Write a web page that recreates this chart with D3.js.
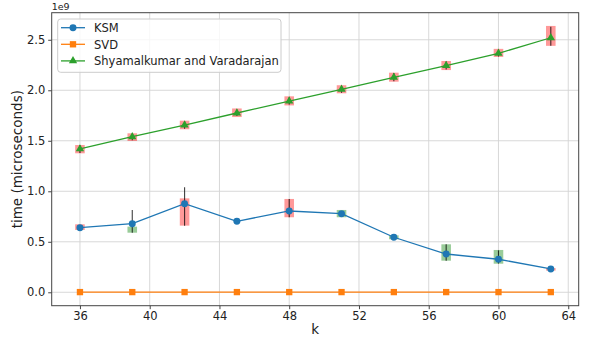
<!doctype html>
<html lang="en">
<head>
<meta charset="utf-8">
<title>time vs k</title>
<style>
  body { margin: 0; background: #fff; }
  text { font-family: "DejaVu Sans", sans-serif; fill: #222; }
  .grid line { stroke: #d4d4d4; stroke-width: 0.9; }
  .axis path, .axis line { stroke: #444; }
</style>
</head>
<body>
<script src="https://d3js.org/d3.v7.min.js"></script>
<script>
// k values on the x axis
var ks = [36, 39, 42, 45, 48, 51, 54, 57, 60, 63];

// KSM: mean time, error bar ends, shaded box ends, box colour
var ksm     = [0.640e9, 0.679e9, 0.877e9, 0.703e9, 0.805e9, 0.778e9, 0.545e9, 0.379e9, 0.327e9, 0.231e9];
var ksmLow  = [0.620e9, 0.590e9, 0.660e9, 0.700e9, 0.743e9, 0.755e9, 0.535e9, 0.313e9, 0.285e9, 0.226e9];
var ksmHigh = [0.665e9, 0.815e9, 1.040e9, 0.706e9, 0.924e9, 0.800e9, 0.555e9, 0.475e9, 0.415e9, 0.236e9];
var ksmBoxLo = [0.617e9, 0.590e9, 0.660e9, null, 0.743e9, 0.743e9, 0.525e9, 0.313e9, 0.283e9, 0.215e9];
var ksmBoxHi = [0.673e9, 0.650e9, 0.930e9, null, 0.924e9, 0.815e9, 0.564e9, 0.475e9, 0.419e9, 0.240e9];
var ksmBoxCol = ["red", "green", "red", "red", "red", "green", "green", "green", "green", "red"];

// SVD: essentially zero
var svd = [0.002e9, 0.002e9, 0.002e9, 0.002e9, 0.002e9, 0.002e9, 0.002e9, 0.002e9, 0.002e9, 0.002e9];

// Shyamalkumar and Varadarajan
var sv     = [1.419e9, 1.540e9, 1.656e9, 1.775e9, 1.893e9, 2.010e9, 2.128e9, 2.244e9, 2.366e9, 2.520e9];
var svLow  = [1.380e9, 1.505e9, 1.620e9, 1.745e9, 1.860e9, 1.975e9, 2.090e9, 2.205e9, 2.335e9, 2.440e9];
var svHigh = [1.455e9, 1.570e9, 1.695e9, 1.810e9, 1.930e9, 2.045e9, 2.170e9, 2.285e9, 2.405e9, 2.630e9];
var svBoxLo = [1.376e9, 1.498e9, 1.614e9, 1.735e9, 1.850e9, 1.970e9, 2.085e9, 2.200e9, 2.330e9, 2.440e9];
var svBoxHi = [1.458e9, 1.574e9, 1.699e9, 1.820e9, 1.940e9, 2.050e9, 2.174e9, 2.290e9, 2.410e9, 2.637e9];
var svBoxCol = ["red", "red", "red", "red", "red", "red", "red", "red", "red", "red"];

var xTicks = [36, 40, 44, 48, 52, 56, 60, 64];
var yTicks = [0, 0.5e9, 1.0e9, 1.5e9, 2.0e9, 2.5e9];

var W = 590, H = 339;
var pl = 51.7, pr = 578.7, pt = 12.7, pb = 305.7;

var svg = d3.select("body").append("svg")
    .attr("width", W).attr("height", H);

var x = d3.scaleLinear().domain([34.38, 64.6]).range([pl, pr]);
var y = d3.scaleLinear().domain([-0.1327e9, 2.768e9]).range([pb, pt]);

// grid
var grid = svg.append("g").attr("class", "grid");
grid.selectAll(".gx").data(xTicks).enter().append("line")
  .attr("x1", d => x(d)).attr("x2", d => x(d))
  .attr("y1", pt).attr("y2", pb);
grid.selectAll(".gy").data(yTicks).enter().append("line")
  .attr("y1", d => y(d)).attr("y2", d => y(d))
  .attr("x1", pl).attr("x2", pr);

var boxW = 0.55;
var colours = { red: "#ff0000", green: "#008000" };

function series(vals, lo, hi, bLo, bHi, bCol, colour, marker) {
  var g = svg.append("g");
  var rows = ks.map((k, i) => ({k: k, v: vals[i], lo: lo ? lo[i] : null, hi: hi ? hi[i] : null,
    bLo: bLo ? bLo[i] : null, bHi: bHi ? bHi[i] : null, bc: bCol ? bCol[i] : null}));

  // shaded boxes
  g.selectAll(".box").data(rows.filter(d => d.bLo != null)).enter().append("rect")
    .attr("x", d => x(d.k - boxW / 2))
    .attr("width", d => x(d.k + boxW / 2) - x(d.k - boxW / 2))
    .attr("y", d => y(d.bHi))
    .attr("height", d => y(d.bLo) - y(d.bHi))
    .attr("fill", d => colours[d.bc])
    .attr("fill-opacity", 0.4);

  // error bars
  g.selectAll(".err").data(rows.filter(d => d.lo != null)).enter().append("line")
    .attr("x1", d => x(d.k)).attr("x2", d => x(d.k))
    .attr("y1", d => y(d.lo)).attr("y2", d => y(d.hi))
    .attr("stroke", "#000").attr("stroke-opacity", 0.75).attr("stroke-width", 1.1);

  var line = d3.line().x(d => x(d.k)).y(d => y(d.v));
  g.append("path").datum(rows)
    .attr("d", line)
    .attr("fill", "none")
    .attr("stroke", colour)
    .attr("stroke-width", 1.3);

  var sym = marker == "circle" ? d3.symbolCircle : marker == "square" ? d3.symbolSquare : d3.symbolTriangle;
  var size = marker == "circle" ? 38 : marker == "square" ? 40 : 30;
  g.selectAll(".mk").data(rows).enter().append("path")
    .attr("transform", d => "translate(" + x(d.k) + "," + y(d.v) + ")")
    .attr("d", d3.symbol().type(sym).size(size))
    .attr("fill", colour);
}

series(sv, svLow, svHigh, svBoxLo, svBoxHi, svBoxCol, "#2ca02c", "triangle");
series(ksm, ksmLow, ksmHigh, ksmBoxLo, ksmBoxHi, ksmBoxCol, "#1f77b4", "circle");
series(svd, null, null, null, null, null, "#ff7f0e", "square");

// axes
var xAxis = svg.append("g").attr("class", "axis")
  .attr("transform", "translate(0," + pb + ")")
  .call(d3.axisBottom(x).tickValues(xTicks).tickSize(3.5).tickPadding(3).tickSizeOuter(0));
var yAxis = svg.append("g").attr("class", "axis")
  .attr("transform", "translate(" + pl + ",0)")
  .call(d3.axisLeft(y).tickValues(yTicks).tickSize(3.5).tickPadding(3).tickSizeOuter(0)
    .tickFormat(d => (d / 1e9).toFixed(1)));
svg.selectAll(".axis text").style("font-size", "11.5px").attr("fill", "#222")
  .style("font-family", "DejaVu Sans, sans-serif");
svg.selectAll(".axis .domain").remove();

// frame
svg.append("rect")
  .attr("x", pl).attr("y", pt)
  .attr("width", pr - pl).attr("height", pb - pt)
  .attr("fill", "none").attr("stroke", "#444").attr("stroke-width", 1);

// offset label and axis titles
svg.append("text").attr("x", pl).attr("y", 10)
  .style("font-size", "9.5px").text("1e9");
svg.append("text").attr("x", (pl + pr) / 2).attr("y", 334)
  .attr("text-anchor", "middle").style("font-size", "13.5px").text("k");
svg.append("text")
  .attr("transform", "translate(22," + (pt + pb) / 2 + ") rotate(-90)")
  .attr("text-anchor", "middle").style("font-size", "13.5px").text("time (microseconds)");

// legend
var legItems = [
  {name: "KSM", colour: "#1f77b4", marker: d3.symbolCircle, size: 38},
  {name: "SVD", colour: "#ff7f0e", marker: d3.symbolSquare, size: 40},
  {name: "Shyamalkumar and Varadarajan", colour: "#2ca02c", marker: d3.symbolTriangle, size: 30}
];
var leg = svg.append("g");
leg.append("rect")
  .attr("x", 57.7).attr("y", 19).attr("width", 223.3).attr("height", 53.3)
  .attr("rx", 3).attr("fill", "#fff").attr("fill-opacity", 0.8)
  .attr("stroke", "#ccc");
var li = leg.selectAll(".li").data(legItems).enter().append("g")
  .attr("transform", (d, i) => "translate(0," + (27.7 + i * 16.6) + ")");
li.append("line").attr("x1", 61).attr("x2", 85).attr("y1", 0).attr("y2", 0)
  .attr("stroke", d => d.colour).attr("stroke-width", 1.3);
li.append("path").attr("transform", "translate(73,0)")
  .attr("d", d => d3.symbol().type(d.marker).size(d.size)())
  .attr("fill", d => d.colour);
li.append("text").attr("x", 94).attr("y", 4.2)
  .style("font-size", "11.5px").text(d => d.name);
</script>
</body>
</html>
